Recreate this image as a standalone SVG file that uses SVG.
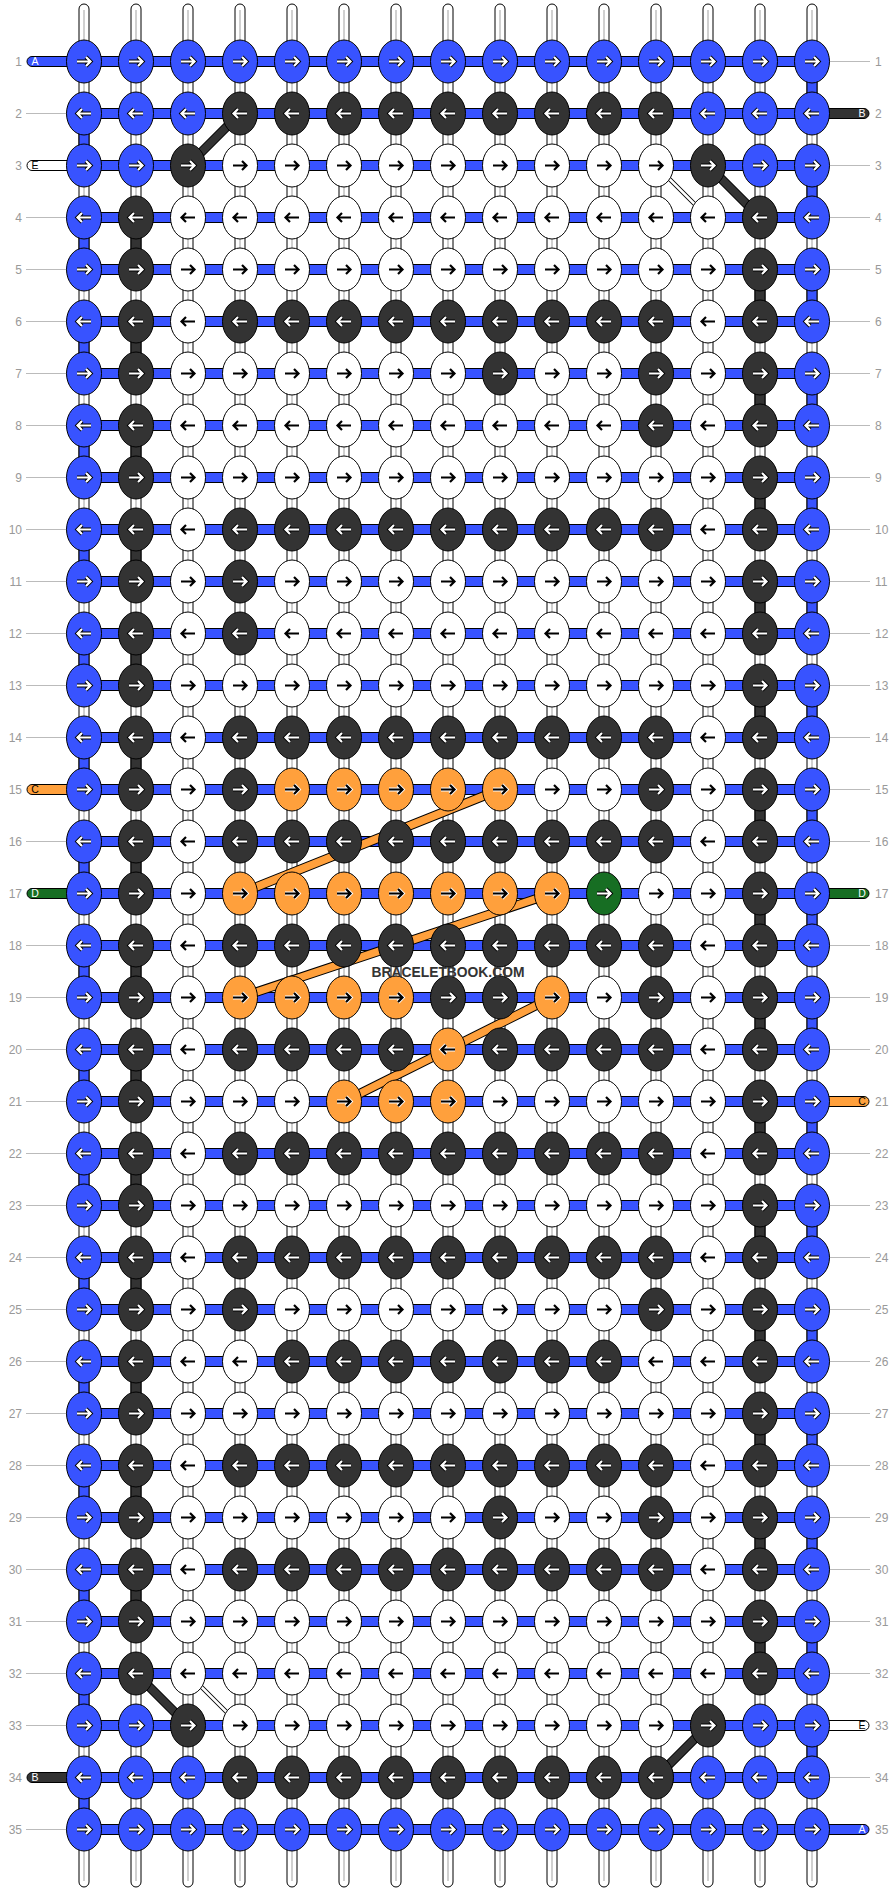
<svg xmlns="http://www.w3.org/2000/svg" width="896" height="1892" viewBox="0 0 896 1892">
<style>
.num{font-family:"Liberation Sans",Arial,sans-serif;font-size:12px;fill:#999}
.nl{text-anchor:end}
.pl{font-family:"Liberation Sans",Arial,sans-serif;font-size:10.5px;text-anchor:middle}
.gl{stroke:#bbb;stroke-width:1}
.ws{fill:#fff;stroke:#000;stroke-width:1}
.wc{stroke:#d0d0d0;stroke-width:2}
.sb{fill:#3853ff;stroke:#000;stroke-width:1}
.sk{fill:#333;stroke:#000;stroke-width:1}
.so{fill:#ffa03c;stroke:#000;stroke-width:1}
.sg{fill:#176e23;stroke:#000;stroke-width:1}
.sw{fill:#fff;stroke:#000;stroke-width:1}
.ao{fill:none;stroke:#000;stroke-width:4}
.ai{fill:none;stroke:#fff;stroke-width:2.2}
.lo{fill:none;stroke:#fff;stroke-width:4}
.li{fill:none;stroke:#000;stroke-width:2.2}
.c0{fill:none;stroke:#000;stroke-width:9.5}
.ck{fill:none;stroke:#333;stroke-width:7.5}
.co{fill:none;stroke:#ffa03c;stroke-width:7.5}
.t0{fill:none;stroke:#000;stroke-width:4.5}
.tw{fill:none;stroke:#fff;stroke-width:2.5}
.wm{font-family:"Liberation Sans",Arial,sans-serif;font-weight:bold;font-size:15px;fill:#333;text-anchor:middle}
</style>
<defs>
<path id="ar" d="M-7,0H6M2,-4.5L6.5,0L2,4.5"/>
<g id="aWR"><use href="#ar" class="ao"/><use href="#ar" class="ai"/></g>
<g id="aWL" transform="scale(-1,1)"><use href="#ar" class="ao"/><use href="#ar" class="ai"/></g>
<g id="aBR"><use href="#ar" class="lo"/><use href="#ar" class="li"/></g>
<g id="aBL" transform="scale(-1,1)"><use href="#ar" class="lo"/><use href="#ar" class="li"/></g>
<g id="bR"><ellipse class="sb" rx="17.5" ry="21.5"/><use href="#aWR"/></g>
<g id="bL"><ellipse class="sb" rx="17.5" ry="21.5"/><use href="#aWL"/></g>
<g id="kR"><ellipse class="sk" rx="17.5" ry="21.5"/><use href="#aWR"/></g>
<g id="kL"><ellipse class="sk" rx="17.5" ry="21.5"/><use href="#aWL"/></g>
<g id="gR"><ellipse class="sg" rx="17.5" ry="21.5"/><use href="#aWR"/></g>
<g id="wR"><ellipse class="sw" rx="17.5" ry="21.5"/><use href="#aBR"/></g>
<g id="wL"><ellipse class="sw" rx="17.5" ry="21.5"/><use href="#aBL"/></g>
<g id="oR"><ellipse class="so" rx="17.5" ry="21.5"/><use href="#aBR"/></g>
<g id="oL"><ellipse class="so" rx="17.5" ry="21.5"/><use href="#aBL"/></g>
</defs>
<rect width="896" height="1892" fill="#fff"/>

<g id="row-labels">
<g class="num nl">
<text x="22" y="66">1</text><text x="22" y="118">2</text><text x="22" y="170">3</text><text x="22" y="222">4</text><text x="22" y="274">5</text><text x="22" y="326">6</text><text x="22" y="378">7</text><text x="22" y="430">8</text><text x="22" y="482">9</text><text x="22" y="534">10</text><text x="22" y="586">11</text><text x="22" y="638">12</text><text x="22" y="690">13</text><text x="22" y="742">14</text><text x="22" y="794">15</text><text x="22" y="846">16</text><text x="22" y="898">17</text><text x="22" y="950">18</text><text x="22" y="1002">19</text><text x="22" y="1054">20</text><text x="22" y="1106">21</text><text x="22" y="1158">22</text><text x="22" y="1210">23</text><text x="22" y="1262">24</text><text x="22" y="1314">25</text><text x="22" y="1366">26</text><text x="22" y="1418">27</text><text x="22" y="1470">28</text><text x="22" y="1522">29</text><text x="22" y="1574">30</text><text x="22" y="1626">31</text><text x="22" y="1678">32</text><text x="22" y="1730">33</text><text x="22" y="1782">34</text><text x="22" y="1834">35</text>
</g>
<g class="num">
<text x="875" y="66">1</text><text x="875" y="118">2</text><text x="875" y="170">3</text><text x="875" y="222">4</text><text x="875" y="274">5</text><text x="875" y="326">6</text><text x="875" y="378">7</text><text x="875" y="430">8</text><text x="875" y="482">9</text><text x="875" y="534">10</text><text x="875" y="586">11</text><text x="875" y="638">12</text><text x="875" y="690">13</text><text x="875" y="742">14</text><text x="875" y="794">15</text><text x="875" y="846">16</text><text x="875" y="898">17</text><text x="875" y="950">18</text><text x="875" y="1002">19</text><text x="875" y="1054">20</text><text x="875" y="1106">21</text><text x="875" y="1158">22</text><text x="875" y="1210">23</text><text x="875" y="1262">24</text><text x="875" y="1314">25</text><text x="875" y="1366">26</text><text x="875" y="1418">27</text><text x="875" y="1470">28</text><text x="875" y="1522">29</text><text x="875" y="1574">30</text><text x="875" y="1626">31</text><text x="875" y="1678">32</text><text x="875" y="1730">33</text><text x="875" y="1782">34</text><text x="875" y="1834">35</text>
</g>
<g class="gl">
<line x1="26" y1="113.5" x2="67" y2="113.5"/><line x1="26" y1="217.5" x2="67" y2="217.5"/><line x1="26" y1="269.5" x2="67" y2="269.5"/><line x1="26" y1="321.5" x2="67" y2="321.5"/><line x1="26" y1="373.5" x2="67" y2="373.5"/><line x1="26" y1="425.5" x2="67" y2="425.5"/><line x1="26" y1="477.5" x2="67" y2="477.5"/><line x1="26" y1="529.5" x2="67" y2="529.5"/><line x1="26" y1="581.5" x2="67" y2="581.5"/><line x1="26" y1="633.5" x2="67" y2="633.5"/><line x1="26" y1="685.5" x2="67" y2="685.5"/><line x1="26" y1="737.5" x2="67" y2="737.5"/><line x1="26" y1="841.5" x2="67" y2="841.5"/><line x1="26" y1="945.5" x2="67" y2="945.5"/><line x1="26" y1="997.5" x2="67" y2="997.5"/><line x1="26" y1="1049.5" x2="67" y2="1049.5"/><line x1="26" y1="1101.5" x2="67" y2="1101.5"/><line x1="26" y1="1153.5" x2="67" y2="1153.5"/><line x1="26" y1="1205.5" x2="67" y2="1205.5"/><line x1="26" y1="1257.5" x2="67" y2="1257.5"/><line x1="26" y1="1309.5" x2="67" y2="1309.5"/><line x1="26" y1="1361.5" x2="67" y2="1361.5"/><line x1="26" y1="1413.5" x2="67" y2="1413.5"/><line x1="26" y1="1465.5" x2="67" y2="1465.5"/><line x1="26" y1="1517.5" x2="67" y2="1517.5"/><line x1="26" y1="1569.5" x2="67" y2="1569.5"/><line x1="26" y1="1621.5" x2="67" y2="1621.5"/><line x1="26" y1="1673.5" x2="67" y2="1673.5"/><line x1="26" y1="1725.5" x2="67" y2="1725.5"/><line x1="26" y1="1829.5" x2="67" y2="1829.5"/>
<line x1="829" y1="61.5" x2="870" y2="61.5"/><line x1="829" y1="165.5" x2="870" y2="165.5"/><line x1="829" y1="217.5" x2="870" y2="217.5"/><line x1="829" y1="269.5" x2="870" y2="269.5"/><line x1="829" y1="321.5" x2="870" y2="321.5"/><line x1="829" y1="373.5" x2="870" y2="373.5"/><line x1="829" y1="425.5" x2="870" y2="425.5"/><line x1="829" y1="477.5" x2="870" y2="477.5"/><line x1="829" y1="529.5" x2="870" y2="529.5"/><line x1="829" y1="581.5" x2="870" y2="581.5"/><line x1="829" y1="633.5" x2="870" y2="633.5"/><line x1="829" y1="685.5" x2="870" y2="685.5"/><line x1="829" y1="737.5" x2="870" y2="737.5"/><line x1="829" y1="789.5" x2="870" y2="789.5"/><line x1="829" y1="841.5" x2="870" y2="841.5"/><line x1="829" y1="945.5" x2="870" y2="945.5"/><line x1="829" y1="997.5" x2="870" y2="997.5"/><line x1="829" y1="1049.5" x2="870" y2="1049.5"/><line x1="829" y1="1153.5" x2="870" y2="1153.5"/><line x1="829" y1="1205.5" x2="870" y2="1205.5"/><line x1="829" y1="1257.5" x2="870" y2="1257.5"/><line x1="829" y1="1309.5" x2="870" y2="1309.5"/><line x1="829" y1="1361.5" x2="870" y2="1361.5"/><line x1="829" y1="1413.5" x2="870" y2="1413.5"/><line x1="829" y1="1465.5" x2="870" y2="1465.5"/><line x1="829" y1="1517.5" x2="870" y2="1517.5"/><line x1="829" y1="1569.5" x2="870" y2="1569.5"/><line x1="829" y1="1621.5" x2="870" y2="1621.5"/><line x1="829" y1="1673.5" x2="870" y2="1673.5"/><line x1="829" y1="1777.5" x2="870" y2="1777.5"/>
</g>
</g>

<g id="warp-strings">
<g class="ws">
<rect x="79" y="4" width="10" height="1883" rx="5"/><rect x="131" y="4" width="10" height="1883" rx="5"/><rect x="183" y="4" width="10" height="1883" rx="5"/><rect x="235" y="4" width="10" height="1883" rx="5"/><rect x="287" y="4" width="10" height="1883" rx="5"/><rect x="339" y="4" width="10" height="1883" rx="5"/><rect x="391" y="4" width="10" height="1883" rx="5"/><rect x="443" y="4" width="10" height="1883" rx="5"/><rect x="495" y="4" width="10" height="1883" rx="5"/><rect x="547" y="4" width="10" height="1883" rx="5"/><rect x="599" y="4" width="10" height="1883" rx="5"/><rect x="651" y="4" width="10" height="1883" rx="5"/><rect x="703" y="4" width="10" height="1883" rx="5"/><rect x="755" y="4" width="10" height="1883" rx="5"/><rect x="807" y="4" width="10" height="1883" rx="5"/>
</g>
<g class="wc">
<line x1="84" y1="10" x2="84" y2="1881"/><line x1="136" y1="10" x2="136" y2="1881"/><line x1="188" y1="10" x2="188" y2="1881"/><line x1="240" y1="10" x2="240" y2="1881"/><line x1="292" y1="10" x2="292" y2="1881"/><line x1="344" y1="10" x2="344" y2="1881"/><line x1="396" y1="10" x2="396" y2="1881"/><line x1="448" y1="10" x2="448" y2="1881"/><line x1="500" y1="10" x2="500" y2="1881"/><line x1="552" y1="10" x2="552" y2="1881"/><line x1="604" y1="10" x2="604" y2="1881"/><line x1="656" y1="10" x2="656" y2="1881"/><line x1="708" y1="10" x2="708" y2="1881"/><line x1="760" y1="10" x2="760" y2="1881"/><line x1="812" y1="10" x2="812" y2="1881"/>
</g>
<g class="sb">
<rect x="79" y="113.5" width="10" height="52"/><rect x="79" y="217.5" width="10" height="52"/><rect x="79" y="321.5" width="10" height="52"/><rect x="79" y="425.5" width="10" height="52"/><rect x="79" y="529.5" width="10" height="52"/><rect x="79" y="633.5" width="10" height="52"/><rect x="79" y="737.5" width="10" height="52"/><rect x="79" y="841.5" width="10" height="52"/><rect x="79" y="945.5" width="10" height="52"/><rect x="79" y="1049.5" width="10" height="52"/><rect x="79" y="1153.5" width="10" height="52"/><rect x="79" y="1257.5" width="10" height="52"/><rect x="79" y="1361.5" width="10" height="52"/><rect x="79" y="1465.5" width="10" height="52"/><rect x="79" y="1569.5" width="10" height="52"/><rect x="79" y="1673.5" width="10" height="52"/><rect x="79" y="1777.5" width="10" height="52"/>
<rect x="807" y="61.5" width="10" height="52"/><rect x="807" y="165.5" width="10" height="52"/><rect x="807" y="269.5" width="10" height="52"/><rect x="807" y="373.5" width="10" height="52"/><rect x="807" y="477.5" width="10" height="52"/><rect x="807" y="581.5" width="10" height="52"/><rect x="807" y="685.5" width="10" height="52"/><rect x="807" y="789.5" width="10" height="52"/><rect x="807" y="893.5" width="10" height="52"/><rect x="807" y="997.5" width="10" height="52"/><rect x="807" y="1101.5" width="10" height="52"/><rect x="807" y="1205.5" width="10" height="52"/><rect x="807" y="1309.5" width="10" height="52"/><rect x="807" y="1413.5" width="10" height="52"/><rect x="807" y="1517.5" width="10" height="52"/><rect x="807" y="1621.5" width="10" height="52"/><rect x="807" y="1725.5" width="10" height="52"/>
</g>
<g class="sk">
<rect x="131" y="217.5" width="10" height="52"/><rect x="131" y="321.5" width="10" height="52"/><rect x="131" y="425.5" width="10" height="52"/><rect x="131" y="529.5" width="10" height="52"/><rect x="131" y="633.5" width="10" height="52"/><rect x="131" y="737.5" width="10" height="52"/><rect x="131" y="841.5" width="10" height="52"/><rect x="131" y="945.5" width="10" height="52"/><rect x="131" y="1049.5" width="10" height="52"/><rect x="131" y="1153.5" width="10" height="52"/><rect x="131" y="1257.5" width="10" height="52"/><rect x="131" y="1361.5" width="10" height="52"/><rect x="131" y="1465.5" width="10" height="52"/><rect x="131" y="1569.5" width="10" height="52"/>
<rect x="755" y="269.5" width="10" height="52"/><rect x="755" y="373.5" width="10" height="52"/><rect x="755" y="477.5" width="10" height="52"/><rect x="755" y="581.5" width="10" height="52"/><rect x="755" y="685.5" width="10" height="52"/><rect x="755" y="789.5" width="10" height="52"/><rect x="755" y="893.5" width="10" height="52"/><rect x="755" y="997.5" width="10" height="52"/><rect x="755" y="1101.5" width="10" height="52"/><rect x="755" y="1205.5" width="10" height="52"/><rect x="755" y="1309.5" width="10" height="52"/><rect x="755" y="1413.5" width="10" height="52"/><rect x="755" y="1517.5" width="10" height="52"/><rect x="755" y="1621.5" width="10" height="52"/>
</g>
</g>

<g id="row-strings" class="sb">
<rect x="84" y="56.5" width="728" height="10"/><rect x="84" y="108.5" width="728" height="10"/><rect x="84" y="160.5" width="728" height="10"/><rect x="84" y="212.5" width="728" height="10"/><rect x="84" y="264.5" width="728" height="10"/><rect x="84" y="316.5" width="728" height="10"/><rect x="84" y="368.5" width="728" height="10"/><rect x="84" y="420.5" width="728" height="10"/><rect x="84" y="472.5" width="728" height="10"/><rect x="84" y="524.5" width="728" height="10"/><rect x="84" y="576.5" width="728" height="10"/><rect x="84" y="628.5" width="728" height="10"/><rect x="84" y="680.5" width="728" height="10"/><rect x="84" y="732.5" width="728" height="10"/><rect x="84" y="784.5" width="728" height="10"/><rect x="84" y="836.5" width="728" height="10"/><rect x="84" y="888.5" width="728" height="10"/><rect x="84" y="940.5" width="728" height="10"/><rect x="84" y="992.5" width="728" height="10"/><rect x="84" y="1044.5" width="728" height="10"/><rect x="84" y="1096.5" width="728" height="10"/><rect x="84" y="1148.5" width="728" height="10"/><rect x="84" y="1200.5" width="728" height="10"/><rect x="84" y="1252.5" width="728" height="10"/><rect x="84" y="1304.5" width="728" height="10"/><rect x="84" y="1356.5" width="728" height="10"/><rect x="84" y="1408.5" width="728" height="10"/><rect x="84" y="1460.5" width="728" height="10"/><rect x="84" y="1512.5" width="728" height="10"/><rect x="84" y="1564.5" width="728" height="10"/><rect x="84" y="1616.5" width="728" height="10"/><rect x="84" y="1668.5" width="728" height="10"/><rect x="84" y="1720.5" width="728" height="10"/><rect x="84" y="1772.5" width="728" height="10"/><rect x="84" y="1824.5" width="728" height="10"/>
</g>

<g id="string-ends">
<g id="endA-left"><rect class="sb" x="27" y="56.5" width="57" height="10" rx="5"/><text class="pl" x="35" y="65.3" fill="#fff">A</text></g>
<g id="endE-left"><rect class="sw" x="27" y="160.5" width="57" height="10" rx="5"/><text class="pl" x="35" y="169.3" fill="#000">E</text></g>
<g id="endC-left"><rect class="so" x="27" y="784.5" width="57" height="10" rx="5"/><text class="pl" x="35" y="793.3" fill="#000">C</text></g>
<g id="endD-left"><rect class="sg" x="27" y="888.5" width="57" height="10" rx="5"/><text class="pl" x="35" y="897.3" fill="#fff">D</text></g>
<g id="endB-left"><rect class="sk" x="27" y="1772.5" width="57" height="10" rx="5"/><text class="pl" x="35" y="1781.3" fill="#fff">B</text></g>
<g id="endB-right"><rect class="sk" x="812" y="108.5" width="57" height="10" rx="5"/><text class="pl" x="862" y="117.3" fill="#fff">B</text></g>
<g id="endD-right"><rect class="sg" x="812" y="888.5" width="57" height="10" rx="5"/><text class="pl" x="862" y="897.3" fill="#fff">D</text></g>
<g id="endC-right"><rect class="so" x="812" y="1096.5" width="57" height="10" rx="5"/><text class="pl" x="862" y="1105.3" fill="#000">C</text></g>
<g id="endE-right"><rect class="sw" x="812" y="1720.5" width="57" height="10" rx="5"/><text class="pl" x="862" y="1729.3" fill="#000">E</text></g>
<g id="endA-right"><rect class="sb" x="812" y="1824.5" width="57" height="10" rx="5"/><text class="pl" x="862" y="1833.3" fill="#fff">A</text></g>
</g>

<g id="connectors">
<path class="c0" d="M240,113.5L188,165.5M708,165.5L760,217.5M136,1673.5L188,1725.5M708,1725.5L656,1777.5"/>
<path class="ck" d="M240,113.5L188,165.5M708,165.5L760,217.5M136,1673.5L188,1725.5M708,1725.5L656,1777.5"/>
<path class="t0" d="M656,165.5L708,217.5M188,1673.5L240,1725.5"/>
<path class="tw" d="M656,165.5L708,217.5M188,1673.5L240,1725.5"/>
<path class="c0" d="M500,789.5L240,893.5M552,893.5L240,997.5M552,997.5L344,1101.5"/>
<path class="co" d="M500,789.5L240,893.5M552,893.5L240,997.5M552,997.5L344,1101.5"/>
</g>

<g id="nodes">
<g id="row1" transform="translate(0,61.5)"><use id="n1-1" href="#bR" x="84"/><use id="n1-2" href="#bR" x="136"/><use id="n1-3" href="#bR" x="188"/><use id="n1-4" href="#bR" x="240"/><use id="n1-5" href="#bR" x="292"/><use id="n1-6" href="#bR" x="344"/><use id="n1-7" href="#bR" x="396"/><use id="n1-8" href="#bR" x="448"/><use id="n1-9" href="#bR" x="500"/><use id="n1-10" href="#bR" x="552"/><use id="n1-11" href="#bR" x="604"/><use id="n1-12" href="#bR" x="656"/><use id="n1-13" href="#bR" x="708"/><use id="n1-14" href="#bR" x="760"/><use id="n1-15" href="#bR" x="812"/></g>
<g id="row2" transform="translate(0,113.5)"><use id="n2-1" href="#bL" x="84"/><use id="n2-2" href="#bL" x="136"/><use id="n2-3" href="#bL" x="188"/><use id="n2-4" href="#kL" x="240"/><use id="n2-5" href="#kL" x="292"/><use id="n2-6" href="#kL" x="344"/><use id="n2-7" href="#kL" x="396"/><use id="n2-8" href="#kL" x="448"/><use id="n2-9" href="#kL" x="500"/><use id="n2-10" href="#kL" x="552"/><use id="n2-11" href="#kL" x="604"/><use id="n2-12" href="#kL" x="656"/><use id="n2-13" href="#bL" x="708"/><use id="n2-14" href="#bL" x="760"/><use id="n2-15" href="#bL" x="812"/></g>
<g id="row3" transform="translate(0,165.5)"><use id="n3-1" href="#bR" x="84"/><use id="n3-2" href="#bR" x="136"/><use id="n3-3" href="#kR" x="188"/><use id="n3-4" href="#wR" x="240"/><use id="n3-5" href="#wR" x="292"/><use id="n3-6" href="#wR" x="344"/><use id="n3-7" href="#wR" x="396"/><use id="n3-8" href="#wR" x="448"/><use id="n3-9" href="#wR" x="500"/><use id="n3-10" href="#wR" x="552"/><use id="n3-11" href="#wR" x="604"/><use id="n3-12" href="#wR" x="656"/><use id="n3-13" href="#kR" x="708"/><use id="n3-14" href="#bR" x="760"/><use id="n3-15" href="#bR" x="812"/></g>
<g id="row4" transform="translate(0,217.5)"><use id="n4-1" href="#bL" x="84"/><use id="n4-2" href="#kL" x="136"/><use id="n4-3" href="#wL" x="188"/><use id="n4-4" href="#wL" x="240"/><use id="n4-5" href="#wL" x="292"/><use id="n4-6" href="#wL" x="344"/><use id="n4-7" href="#wL" x="396"/><use id="n4-8" href="#wL" x="448"/><use id="n4-9" href="#wL" x="500"/><use id="n4-10" href="#wL" x="552"/><use id="n4-11" href="#wL" x="604"/><use id="n4-12" href="#wL" x="656"/><use id="n4-13" href="#wL" x="708"/><use id="n4-14" href="#kL" x="760"/><use id="n4-15" href="#bL" x="812"/></g>
<g id="row5" transform="translate(0,269.5)"><use id="n5-1" href="#bR" x="84"/><use id="n5-2" href="#kR" x="136"/><use id="n5-3" href="#wR" x="188"/><use id="n5-4" href="#wR" x="240"/><use id="n5-5" href="#wR" x="292"/><use id="n5-6" href="#wR" x="344"/><use id="n5-7" href="#wR" x="396"/><use id="n5-8" href="#wR" x="448"/><use id="n5-9" href="#wR" x="500"/><use id="n5-10" href="#wR" x="552"/><use id="n5-11" href="#wR" x="604"/><use id="n5-12" href="#wR" x="656"/><use id="n5-13" href="#wR" x="708"/><use id="n5-14" href="#kR" x="760"/><use id="n5-15" href="#bR" x="812"/></g>
<g id="row6" transform="translate(0,321.5)"><use id="n6-1" href="#bL" x="84"/><use id="n6-2" href="#kL" x="136"/><use id="n6-3" href="#wL" x="188"/><use id="n6-4" href="#kL" x="240"/><use id="n6-5" href="#kL" x="292"/><use id="n6-6" href="#kL" x="344"/><use id="n6-7" href="#kL" x="396"/><use id="n6-8" href="#kL" x="448"/><use id="n6-9" href="#kL" x="500"/><use id="n6-10" href="#kL" x="552"/><use id="n6-11" href="#kL" x="604"/><use id="n6-12" href="#kL" x="656"/><use id="n6-13" href="#wL" x="708"/><use id="n6-14" href="#kL" x="760"/><use id="n6-15" href="#bL" x="812"/></g>
<g id="row7" transform="translate(0,373.5)"><use id="n7-1" href="#bR" x="84"/><use id="n7-2" href="#kR" x="136"/><use id="n7-3" href="#wR" x="188"/><use id="n7-4" href="#wR" x="240"/><use id="n7-5" href="#wR" x="292"/><use id="n7-6" href="#wR" x="344"/><use id="n7-7" href="#wR" x="396"/><use id="n7-8" href="#wR" x="448"/><use id="n7-9" href="#kR" x="500"/><use id="n7-10" href="#wR" x="552"/><use id="n7-11" href="#wR" x="604"/><use id="n7-12" href="#kR" x="656"/><use id="n7-13" href="#wR" x="708"/><use id="n7-14" href="#kR" x="760"/><use id="n7-15" href="#bR" x="812"/></g>
<g id="row8" transform="translate(0,425.5)"><use id="n8-1" href="#bL" x="84"/><use id="n8-2" href="#kL" x="136"/><use id="n8-3" href="#wL" x="188"/><use id="n8-4" href="#wL" x="240"/><use id="n8-5" href="#wL" x="292"/><use id="n8-6" href="#wL" x="344"/><use id="n8-7" href="#wL" x="396"/><use id="n8-8" href="#wL" x="448"/><use id="n8-9" href="#wL" x="500"/><use id="n8-10" href="#wL" x="552"/><use id="n8-11" href="#wL" x="604"/><use id="n8-12" href="#kL" x="656"/><use id="n8-13" href="#wL" x="708"/><use id="n8-14" href="#kL" x="760"/><use id="n8-15" href="#bL" x="812"/></g>
<g id="row9" transform="translate(0,477.5)"><use id="n9-1" href="#bR" x="84"/><use id="n9-2" href="#kR" x="136"/><use id="n9-3" href="#wR" x="188"/><use id="n9-4" href="#wR" x="240"/><use id="n9-5" href="#wR" x="292"/><use id="n9-6" href="#wR" x="344"/><use id="n9-7" href="#wR" x="396"/><use id="n9-8" href="#wR" x="448"/><use id="n9-9" href="#wR" x="500"/><use id="n9-10" href="#wR" x="552"/><use id="n9-11" href="#wR" x="604"/><use id="n9-12" href="#wR" x="656"/><use id="n9-13" href="#wR" x="708"/><use id="n9-14" href="#kR" x="760"/><use id="n9-15" href="#bR" x="812"/></g>
<g id="row10" transform="translate(0,529.5)"><use id="n10-1" href="#bL" x="84"/><use id="n10-2" href="#kL" x="136"/><use id="n10-3" href="#wL" x="188"/><use id="n10-4" href="#kL" x="240"/><use id="n10-5" href="#kL" x="292"/><use id="n10-6" href="#kL" x="344"/><use id="n10-7" href="#kL" x="396"/><use id="n10-8" href="#kL" x="448"/><use id="n10-9" href="#kL" x="500"/><use id="n10-10" href="#kL" x="552"/><use id="n10-11" href="#kL" x="604"/><use id="n10-12" href="#kL" x="656"/><use id="n10-13" href="#wL" x="708"/><use id="n10-14" href="#kL" x="760"/><use id="n10-15" href="#bL" x="812"/></g>
<g id="row11" transform="translate(0,581.5)"><use id="n11-1" href="#bR" x="84"/><use id="n11-2" href="#kR" x="136"/><use id="n11-3" href="#wR" x="188"/><use id="n11-4" href="#kR" x="240"/><use id="n11-5" href="#wR" x="292"/><use id="n11-6" href="#wR" x="344"/><use id="n11-7" href="#wR" x="396"/><use id="n11-8" href="#wR" x="448"/><use id="n11-9" href="#wR" x="500"/><use id="n11-10" href="#wR" x="552"/><use id="n11-11" href="#wR" x="604"/><use id="n11-12" href="#wR" x="656"/><use id="n11-13" href="#wR" x="708"/><use id="n11-14" href="#kR" x="760"/><use id="n11-15" href="#bR" x="812"/></g>
<g id="row12" transform="translate(0,633.5)"><use id="n12-1" href="#bL" x="84"/><use id="n12-2" href="#kL" x="136"/><use id="n12-3" href="#wL" x="188"/><use id="n12-4" href="#kL" x="240"/><use id="n12-5" href="#wL" x="292"/><use id="n12-6" href="#wL" x="344"/><use id="n12-7" href="#wL" x="396"/><use id="n12-8" href="#wL" x="448"/><use id="n12-9" href="#wL" x="500"/><use id="n12-10" href="#wL" x="552"/><use id="n12-11" href="#wL" x="604"/><use id="n12-12" href="#wL" x="656"/><use id="n12-13" href="#wL" x="708"/><use id="n12-14" href="#kL" x="760"/><use id="n12-15" href="#bL" x="812"/></g>
<g id="row13" transform="translate(0,685.5)"><use id="n13-1" href="#bR" x="84"/><use id="n13-2" href="#kR" x="136"/><use id="n13-3" href="#wR" x="188"/><use id="n13-4" href="#wR" x="240"/><use id="n13-5" href="#wR" x="292"/><use id="n13-6" href="#wR" x="344"/><use id="n13-7" href="#wR" x="396"/><use id="n13-8" href="#wR" x="448"/><use id="n13-9" href="#wR" x="500"/><use id="n13-10" href="#wR" x="552"/><use id="n13-11" href="#wR" x="604"/><use id="n13-12" href="#wR" x="656"/><use id="n13-13" href="#wR" x="708"/><use id="n13-14" href="#kR" x="760"/><use id="n13-15" href="#bR" x="812"/></g>
<g id="row14" transform="translate(0,737.5)"><use id="n14-1" href="#bL" x="84"/><use id="n14-2" href="#kL" x="136"/><use id="n14-3" href="#wL" x="188"/><use id="n14-4" href="#kL" x="240"/><use id="n14-5" href="#kL" x="292"/><use id="n14-6" href="#kL" x="344"/><use id="n14-7" href="#kL" x="396"/><use id="n14-8" href="#kL" x="448"/><use id="n14-9" href="#kL" x="500"/><use id="n14-10" href="#kL" x="552"/><use id="n14-11" href="#kL" x="604"/><use id="n14-12" href="#kL" x="656"/><use id="n14-13" href="#wL" x="708"/><use id="n14-14" href="#kL" x="760"/><use id="n14-15" href="#bL" x="812"/></g>
<g id="row15" transform="translate(0,789.5)"><use id="n15-1" href="#bR" x="84"/><use id="n15-2" href="#kR" x="136"/><use id="n15-3" href="#wR" x="188"/><use id="n15-4" href="#kR" x="240"/><use id="n15-5" href="#oR" x="292"/><use id="n15-6" href="#oR" x="344"/><use id="n15-7" href="#oR" x="396"/><use id="n15-8" href="#oR" x="448"/><use id="n15-9" href="#oR" x="500"/><use id="n15-10" href="#wR" x="552"/><use id="n15-11" href="#wR" x="604"/><use id="n15-12" href="#kR" x="656"/><use id="n15-13" href="#wR" x="708"/><use id="n15-14" href="#kR" x="760"/><use id="n15-15" href="#bR" x="812"/></g>
<g id="row16" transform="translate(0,841.5)"><use id="n16-1" href="#bL" x="84"/><use id="n16-2" href="#kL" x="136"/><use id="n16-3" href="#wL" x="188"/><use id="n16-4" href="#kL" x="240"/><use id="n16-5" href="#kL" x="292"/><use id="n16-6" href="#kL" x="344"/><use id="n16-7" href="#kL" x="396"/><use id="n16-8" href="#kL" x="448"/><use id="n16-9" href="#kL" x="500"/><use id="n16-10" href="#kL" x="552"/><use id="n16-11" href="#kL" x="604"/><use id="n16-12" href="#kL" x="656"/><use id="n16-13" href="#wL" x="708"/><use id="n16-14" href="#kL" x="760"/><use id="n16-15" href="#bL" x="812"/></g>
<g id="row17" transform="translate(0,893.5)"><use id="n17-1" href="#bR" x="84"/><use id="n17-2" href="#kR" x="136"/><use id="n17-3" href="#wR" x="188"/><use id="n17-4" href="#oR" x="240"/><use id="n17-5" href="#oR" x="292"/><use id="n17-6" href="#oR" x="344"/><use id="n17-7" href="#oR" x="396"/><use id="n17-8" href="#oR" x="448"/><use id="n17-9" href="#oR" x="500"/><use id="n17-10" href="#oR" x="552"/><use id="n17-11" href="#gR" x="604"/><use id="n17-12" href="#wR" x="656"/><use id="n17-13" href="#wR" x="708"/><use id="n17-14" href="#kR" x="760"/><use id="n17-15" href="#bR" x="812"/></g>
<g id="row18" transform="translate(0,945.5)"><use id="n18-1" href="#bL" x="84"/><use id="n18-2" href="#kL" x="136"/><use id="n18-3" href="#wL" x="188"/><use id="n18-4" href="#kL" x="240"/><use id="n18-5" href="#kL" x="292"/><use id="n18-6" href="#kL" x="344"/><use id="n18-7" href="#kL" x="396"/><use id="n18-8" href="#kL" x="448"/><use id="n18-9" href="#kL" x="500"/><use id="n18-10" href="#kL" x="552"/><use id="n18-11" href="#kL" x="604"/><use id="n18-12" href="#kL" x="656"/><use id="n18-13" href="#wL" x="708"/><use id="n18-14" href="#kL" x="760"/><use id="n18-15" href="#bL" x="812"/></g>
<g id="row19" transform="translate(0,997.5)"><use id="n19-1" href="#bR" x="84"/><use id="n19-2" href="#kR" x="136"/><use id="n19-3" href="#wR" x="188"/><use id="n19-4" href="#oR" x="240"/><use id="n19-5" href="#oR" x="292"/><use id="n19-6" href="#oR" x="344"/><use id="n19-7" href="#oR" x="396"/><use id="n19-8" href="#kR" x="448"/><use id="n19-9" href="#kR" x="500"/><use id="n19-10" href="#oR" x="552"/><use id="n19-11" href="#wR" x="604"/><use id="n19-12" href="#kR" x="656"/><use id="n19-13" href="#wR" x="708"/><use id="n19-14" href="#kR" x="760"/><use id="n19-15" href="#bR" x="812"/></g>
<g id="row20" transform="translate(0,1049.5)"><use id="n20-1" href="#bL" x="84"/><use id="n20-2" href="#kL" x="136"/><use id="n20-3" href="#wL" x="188"/><use id="n20-4" href="#kL" x="240"/><use id="n20-5" href="#kL" x="292"/><use id="n20-6" href="#kL" x="344"/><use id="n20-7" href="#kL" x="396"/><use id="n20-8" href="#oL" x="448"/><use id="n20-9" href="#kL" x="500"/><use id="n20-10" href="#kL" x="552"/><use id="n20-11" href="#kL" x="604"/><use id="n20-12" href="#kL" x="656"/><use id="n20-13" href="#wL" x="708"/><use id="n20-14" href="#kL" x="760"/><use id="n20-15" href="#bL" x="812"/></g>
<g id="row21" transform="translate(0,1101.5)"><use id="n21-1" href="#bR" x="84"/><use id="n21-2" href="#kR" x="136"/><use id="n21-3" href="#wR" x="188"/><use id="n21-4" href="#wR" x="240"/><use id="n21-5" href="#wR" x="292"/><use id="n21-6" href="#oR" x="344"/><use id="n21-7" href="#oR" x="396"/><use id="n21-8" href="#oR" x="448"/><use id="n21-9" href="#wR" x="500"/><use id="n21-10" href="#wR" x="552"/><use id="n21-11" href="#wR" x="604"/><use id="n21-12" href="#wR" x="656"/><use id="n21-13" href="#wR" x="708"/><use id="n21-14" href="#kR" x="760"/><use id="n21-15" href="#bR" x="812"/></g>
<g id="row22" transform="translate(0,1153.5)"><use id="n22-1" href="#bL" x="84"/><use id="n22-2" href="#kL" x="136"/><use id="n22-3" href="#wL" x="188"/><use id="n22-4" href="#kL" x="240"/><use id="n22-5" href="#kL" x="292"/><use id="n22-6" href="#kL" x="344"/><use id="n22-7" href="#kL" x="396"/><use id="n22-8" href="#kL" x="448"/><use id="n22-9" href="#kL" x="500"/><use id="n22-10" href="#kL" x="552"/><use id="n22-11" href="#kL" x="604"/><use id="n22-12" href="#kL" x="656"/><use id="n22-13" href="#wL" x="708"/><use id="n22-14" href="#kL" x="760"/><use id="n22-15" href="#bL" x="812"/></g>
<g id="row23" transform="translate(0,1205.5)"><use id="n23-1" href="#bR" x="84"/><use id="n23-2" href="#kR" x="136"/><use id="n23-3" href="#wR" x="188"/><use id="n23-4" href="#wR" x="240"/><use id="n23-5" href="#wR" x="292"/><use id="n23-6" href="#wR" x="344"/><use id="n23-7" href="#wR" x="396"/><use id="n23-8" href="#wR" x="448"/><use id="n23-9" href="#wR" x="500"/><use id="n23-10" href="#wR" x="552"/><use id="n23-11" href="#wR" x="604"/><use id="n23-12" href="#wR" x="656"/><use id="n23-13" href="#wR" x="708"/><use id="n23-14" href="#kR" x="760"/><use id="n23-15" href="#bR" x="812"/></g>
<g id="row24" transform="translate(0,1257.5)"><use id="n24-1" href="#bL" x="84"/><use id="n24-2" href="#kL" x="136"/><use id="n24-3" href="#wL" x="188"/><use id="n24-4" href="#kL" x="240"/><use id="n24-5" href="#kL" x="292"/><use id="n24-6" href="#kL" x="344"/><use id="n24-7" href="#kL" x="396"/><use id="n24-8" href="#kL" x="448"/><use id="n24-9" href="#kL" x="500"/><use id="n24-10" href="#kL" x="552"/><use id="n24-11" href="#kL" x="604"/><use id="n24-12" href="#kL" x="656"/><use id="n24-13" href="#wL" x="708"/><use id="n24-14" href="#kL" x="760"/><use id="n24-15" href="#bL" x="812"/></g>
<g id="row25" transform="translate(0,1309.5)"><use id="n25-1" href="#bR" x="84"/><use id="n25-2" href="#kR" x="136"/><use id="n25-3" href="#wR" x="188"/><use id="n25-4" href="#kR" x="240"/><use id="n25-5" href="#wR" x="292"/><use id="n25-6" href="#wR" x="344"/><use id="n25-7" href="#wR" x="396"/><use id="n25-8" href="#wR" x="448"/><use id="n25-9" href="#wR" x="500"/><use id="n25-10" href="#wR" x="552"/><use id="n25-11" href="#wR" x="604"/><use id="n25-12" href="#kR" x="656"/><use id="n25-13" href="#wR" x="708"/><use id="n25-14" href="#kR" x="760"/><use id="n25-15" href="#bR" x="812"/></g>
<g id="row26" transform="translate(0,1361.5)"><use id="n26-1" href="#bL" x="84"/><use id="n26-2" href="#kL" x="136"/><use id="n26-3" href="#wL" x="188"/><use id="n26-4" href="#wL" x="240"/><use id="n26-5" href="#kL" x="292"/><use id="n26-6" href="#kL" x="344"/><use id="n26-7" href="#kL" x="396"/><use id="n26-8" href="#kL" x="448"/><use id="n26-9" href="#kL" x="500"/><use id="n26-10" href="#kL" x="552"/><use id="n26-11" href="#kL" x="604"/><use id="n26-12" href="#wL" x="656"/><use id="n26-13" href="#wL" x="708"/><use id="n26-14" href="#kL" x="760"/><use id="n26-15" href="#bL" x="812"/></g>
<g id="row27" transform="translate(0,1413.5)"><use id="n27-1" href="#bR" x="84"/><use id="n27-2" href="#kR" x="136"/><use id="n27-3" href="#wR" x="188"/><use id="n27-4" href="#wR" x="240"/><use id="n27-5" href="#wR" x="292"/><use id="n27-6" href="#wR" x="344"/><use id="n27-7" href="#wR" x="396"/><use id="n27-8" href="#wR" x="448"/><use id="n27-9" href="#wR" x="500"/><use id="n27-10" href="#wR" x="552"/><use id="n27-11" href="#wR" x="604"/><use id="n27-12" href="#wR" x="656"/><use id="n27-13" href="#wR" x="708"/><use id="n27-14" href="#kR" x="760"/><use id="n27-15" href="#bR" x="812"/></g>
<g id="row28" transform="translate(0,1465.5)"><use id="n28-1" href="#bL" x="84"/><use id="n28-2" href="#kL" x="136"/><use id="n28-3" href="#wL" x="188"/><use id="n28-4" href="#kL" x="240"/><use id="n28-5" href="#kL" x="292"/><use id="n28-6" href="#kL" x="344"/><use id="n28-7" href="#kL" x="396"/><use id="n28-8" href="#kL" x="448"/><use id="n28-9" href="#kL" x="500"/><use id="n28-10" href="#kL" x="552"/><use id="n28-11" href="#kL" x="604"/><use id="n28-12" href="#kL" x="656"/><use id="n28-13" href="#wL" x="708"/><use id="n28-14" href="#kL" x="760"/><use id="n28-15" href="#bL" x="812"/></g>
<g id="row29" transform="translate(0,1517.5)"><use id="n29-1" href="#bR" x="84"/><use id="n29-2" href="#kR" x="136"/><use id="n29-3" href="#wR" x="188"/><use id="n29-4" href="#wR" x="240"/><use id="n29-5" href="#wR" x="292"/><use id="n29-6" href="#wR" x="344"/><use id="n29-7" href="#wR" x="396"/><use id="n29-8" href="#wR" x="448"/><use id="n29-9" href="#kR" x="500"/><use id="n29-10" href="#wR" x="552"/><use id="n29-11" href="#wR" x="604"/><use id="n29-12" href="#kR" x="656"/><use id="n29-13" href="#wR" x="708"/><use id="n29-14" href="#kR" x="760"/><use id="n29-15" href="#bR" x="812"/></g>
<g id="row30" transform="translate(0,1569.5)"><use id="n30-1" href="#bL" x="84"/><use id="n30-2" href="#kL" x="136"/><use id="n30-3" href="#wL" x="188"/><use id="n30-4" href="#kL" x="240"/><use id="n30-5" href="#kL" x="292"/><use id="n30-6" href="#kL" x="344"/><use id="n30-7" href="#kL" x="396"/><use id="n30-8" href="#kL" x="448"/><use id="n30-9" href="#kL" x="500"/><use id="n30-10" href="#kL" x="552"/><use id="n30-11" href="#kL" x="604"/><use id="n30-12" href="#kL" x="656"/><use id="n30-13" href="#wL" x="708"/><use id="n30-14" href="#kL" x="760"/><use id="n30-15" href="#bL" x="812"/></g>
<g id="row31" transform="translate(0,1621.5)"><use id="n31-1" href="#bR" x="84"/><use id="n31-2" href="#kR" x="136"/><use id="n31-3" href="#wR" x="188"/><use id="n31-4" href="#wR" x="240"/><use id="n31-5" href="#wR" x="292"/><use id="n31-6" href="#wR" x="344"/><use id="n31-7" href="#wR" x="396"/><use id="n31-8" href="#wR" x="448"/><use id="n31-9" href="#wR" x="500"/><use id="n31-10" href="#wR" x="552"/><use id="n31-11" href="#wR" x="604"/><use id="n31-12" href="#wR" x="656"/><use id="n31-13" href="#wR" x="708"/><use id="n31-14" href="#kR" x="760"/><use id="n31-15" href="#bR" x="812"/></g>
<g id="row32" transform="translate(0,1673.5)"><use id="n32-1" href="#bL" x="84"/><use id="n32-2" href="#kL" x="136"/><use id="n32-3" href="#wL" x="188"/><use id="n32-4" href="#wL" x="240"/><use id="n32-5" href="#wL" x="292"/><use id="n32-6" href="#wL" x="344"/><use id="n32-7" href="#wL" x="396"/><use id="n32-8" href="#wL" x="448"/><use id="n32-9" href="#wL" x="500"/><use id="n32-10" href="#wL" x="552"/><use id="n32-11" href="#wL" x="604"/><use id="n32-12" href="#wL" x="656"/><use id="n32-13" href="#wL" x="708"/><use id="n32-14" href="#kL" x="760"/><use id="n32-15" href="#bL" x="812"/></g>
<g id="row33" transform="translate(0,1725.5)"><use id="n33-1" href="#bR" x="84"/><use id="n33-2" href="#bR" x="136"/><use id="n33-3" href="#kR" x="188"/><use id="n33-4" href="#wR" x="240"/><use id="n33-5" href="#wR" x="292"/><use id="n33-6" href="#wR" x="344"/><use id="n33-7" href="#wR" x="396"/><use id="n33-8" href="#wR" x="448"/><use id="n33-9" href="#wR" x="500"/><use id="n33-10" href="#wR" x="552"/><use id="n33-11" href="#wR" x="604"/><use id="n33-12" href="#wR" x="656"/><use id="n33-13" href="#kR" x="708"/><use id="n33-14" href="#bR" x="760"/><use id="n33-15" href="#bR" x="812"/></g>
<g id="row34" transform="translate(0,1777.5)"><use id="n34-1" href="#bL" x="84"/><use id="n34-2" href="#bL" x="136"/><use id="n34-3" href="#bL" x="188"/><use id="n34-4" href="#kL" x="240"/><use id="n34-5" href="#kL" x="292"/><use id="n34-6" href="#kL" x="344"/><use id="n34-7" href="#kL" x="396"/><use id="n34-8" href="#kL" x="448"/><use id="n34-9" href="#kL" x="500"/><use id="n34-10" href="#kL" x="552"/><use id="n34-11" href="#kL" x="604"/><use id="n34-12" href="#kL" x="656"/><use id="n34-13" href="#bL" x="708"/><use id="n34-14" href="#bL" x="760"/><use id="n34-15" href="#bL" x="812"/></g>
<g id="row35" transform="translate(0,1829.5)"><use id="n35-1" href="#bR" x="84"/><use id="n35-2" href="#bR" x="136"/><use id="n35-3" href="#bR" x="188"/><use id="n35-4" href="#bR" x="240"/><use id="n35-5" href="#bR" x="292"/><use id="n35-6" href="#bR" x="344"/><use id="n35-7" href="#bR" x="396"/><use id="n35-8" href="#bR" x="448"/><use id="n35-9" href="#bR" x="500"/><use id="n35-10" href="#bR" x="552"/><use id="n35-11" href="#bR" x="604"/><use id="n35-12" href="#bR" x="656"/><use id="n35-13" href="#bR" x="708"/><use id="n35-14" href="#bR" x="760"/><use id="n35-15" href="#bR" x="812"/></g>
</g>

<text id="watermark" class="wm" x="448" y="977" textLength="153" lengthAdjust="spacingAndGlyphs">BRACELETBOOK.COM</text>
</svg>
